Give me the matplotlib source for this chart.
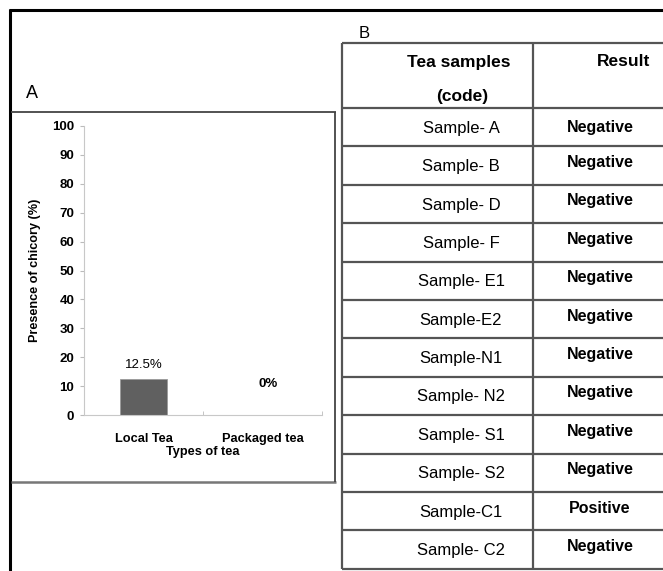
import matplotlib
matplotlib.use('Agg')
import matplotlib.pyplot as plt
from matplotlib.lines import Line2D

plt.rcParams['font.family'] = ['Liberation Sans', 'DejaVu Sans']

# panel A data
tea_types = ['Local Tea', 'Packaged tea']
chicory = [12.5, 0]
bar_labels = ['12.5%', '0%']

# panel B data
samples = ['Sample- A', 'Sample- B', 'Sample- D', 'Sample- F', 'Sample- E1',
           'Sample-E2', 'Sample-N1', 'Sample- N2', 'Sample- S1', 'Sample- S2',
           'Sample-C1', 'Sample- C2']
results = ['Negative', 'Negative', 'Negative', 'Negative', 'Negative',
           'Negative', 'Negative', 'Negative', 'Negative', 'Negative',
           'Positive', 'Negative']

W, H = 663, 571
fig = plt.figure(figsize=(W/100, H/100), dpi=100)


def fx(x):
    return x/W


def fy(y):
    return 1 - y/H


def hline(x0, x1, y, lw, c):
    fig.add_artist(Line2D([fx(x0), fx(x1)], [fy(y), fy(y)], lw=lw, color=c,
                          transform=fig.transFigure, solid_capstyle='butt'))


def vline(x, y0, y1, lw, c):
    fig.add_artist(Line2D([fx(x), fx(x)], [fy(y0), fy(y1)], lw=lw, color=c,
                          transform=fig.transFigure, solid_capstyle='butt'))


# outer frame lines
hline(9, 663, 10, 2.2, 'black')
vline(10, 9, 571, 2.2, 'black')

# ---- panel A ----
fig.text(fx(26), fy(93), 'A', fontsize=13, va='center', ha='left')
# box around chart
hline(11, 336, 112, 1.3, '#444444')
hline(11, 336, 482, 1.8, '#777777')
vline(335, 112, 482, 1.3, '#444444')

ax = fig.add_axes([fx(84), fy(415), fx(322) - fx(84), fy(126) - fy(415)])
x = list(range(len(tea_types)))
ax.bar(x, chicory, width=0.39, color='#606060', edgecolor='#9a9a9a', lw=0.6)
offsets = [4.8, 10.7]
for i in x:
    ax.text(i + 0.05 * i, chicory[i] + offsets[i], bar_labels[i], ha='center', va='center',
            fontsize=9.5, fontweight='bold' if i else 'normal')
ax.set_xlim(-0.5, 1.5)
ax.set_ylim(0, 100)
ax.set_yticks(range(0, 101, 10))
ax.set_xticks(x)
ax.set_xticklabels(tea_types)
ax.set_xticks([-0.5, 0.5, 1.5], minor=True)
ax.tick_params(axis='x', which='major', length=0, pad=13)
ax.tick_params(axis='x', which='minor', length=3, color='#bbbbbb', direction='in')
ax.tick_params(axis='y', length=3, color='#bbbbbb', pad=4)
for lab in ax.get_xticklabels():
    lab.set_fontweight('bold')
    lab.set_fontsize(9.2)
for lab in ax.get_yticklabels():
    lab.set_fontweight('bold')
    lab.set_fontsize(9.5)
for s in ['top', 'right']:
    ax.spines[s].set_visible(False)
for s in ['left', 'bottom']:
    ax.spines[s].set_color('#c8c8c8')
    ax.spines[s].set_linewidth(0.8)
ax.set_xlabel('Types of tea', fontsize=9.2, fontweight='bold', labelpad=1)
ax.set_ylabel('Presence of chicory (%)', fontsize=9.1, fontweight='bold', labelpad=8)

# ---- panel B ----
fig.text(fx(359), fy(33), 'B', fontsize=12, va='center', ha='left')
tab_left, tab_mid, tab_right = 342, 533, 663
top, head_bottom, row_h = 43, 108, 38.4
grey = '#555555'
hline(tab_left, tab_right, top, 1.6, grey)
hline(tab_left, tab_right, head_bottom, 1.6, grey)
for k in range(len(samples)):
    yb = head_bottom + row_h * (k + 1)
    hline(tab_left, tab_right, yb, 1.6, grey)
vline(tab_left, top, head_bottom + row_h * len(samples), 1.6, grey)
vline(tab_mid, top, head_bottom + row_h * len(samples), 1.6, grey)

fig.text(fx(459), fy(62), 'Tea samples', fontsize=12.5, fontweight='bold', ha='center', va='center')
fig.text(fx(462), fy(97), '(code)', fontsize=12.5, fontweight='bold', ha='center', va='center')
fig.text(fx(624), fy(62), 'Result', fontsize=12.5, fontweight='bold', ha='center', va='center')

for k, (s, r) in enumerate(zip(samples, results)):
    yc = head_bottom + row_h * (k + 0.5)
    fig.text(fx(461), fy(yc + 1), s, fontsize=12, ha='center', va='center')
    fig.text(fx(600), fy(yc - (0 if k == 0 else 3)), r, fontsize=11.5,
             fontweight='bold', ha='center', va='center')

fig.savefig('out.png', dpi=100)
